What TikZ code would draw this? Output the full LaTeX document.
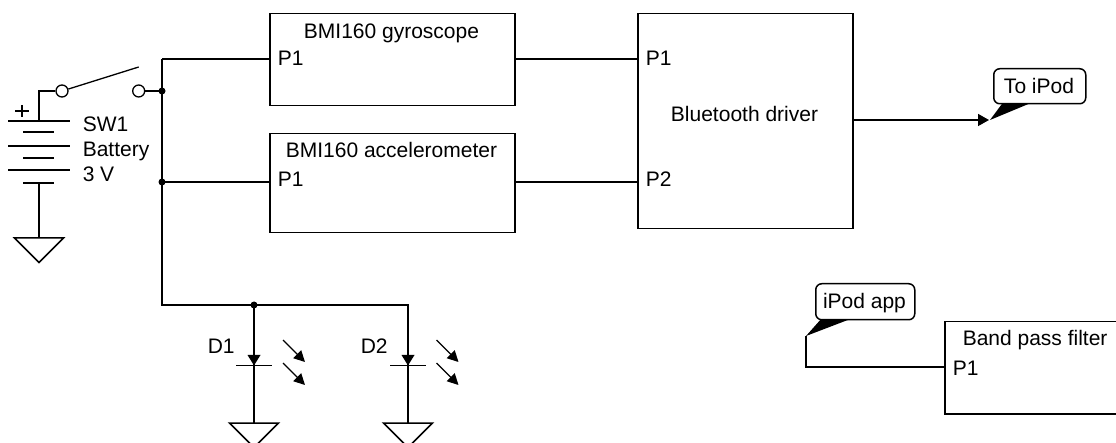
\documentclass[tikz,border=0pt]{standalone}
\usepackage{fontspec}
\setmainfont{Liberation Sans}
\usetikzlibrary{arrows.meta}
\begin{document}
\begin{tikzpicture}[x=1pt,y=-1pt,line width=1.5pt,
  box/.style={draw,inner sep=0pt,anchor=north west},
  lbl/.style={inner sep=0pt,font=\fontsize{21}{25}\selectfont},
  dot/.style={circle,fill,inner sep=0pt,minimum size=7pt},
  callout/.style={draw,fill=white,rounded corners=6pt,inner sep=0pt,anchor=north west},
  swpin/.style={circle,draw,fill=white,inner sep=0pt,minimum size=12pt,line width=1.3pt},
  ledarrow/.style={line width=1.3pt,-{Triangle[length=11pt,width=11pt]}},
  outarrow/.style={-{Triangle[length=11pt,width=12pt]}}
  ]
\useasboundingbox (0,0) rectangle (1116,443);
\clip (0,0) rectangle (1116,443);

% blocks
\node[box,minimum width=245pt,minimum height=92pt] (gyro) at (269,13) {};
\node[box,minimum width=245pt,minimum height=99pt] (acc) at (269,133) {};
\node[box,minimum width=215pt,minimum height=215pt] (bt) at (637,13) {};
\node[box,minimum width=220pt,minimum height=92pt] (bpf) at (944,321) {};

% block texts
\node[lbl,anchor=base] (gyrot) at (391.5,39) {BMI160 gyroscope};
\node[lbl,anchor=base west] (gyrop) at (277,66) {P1};
\node[lbl,anchor=base] (acct) at (391.5,158) {BMI160 accelerometer};
\node[lbl,anchor=base west] (accp) at (277,187) {P1};
\node[lbl,anchor=base west] (btp1) at (645,66) {P1};
\node[lbl,anchor=base west] (btp2) at (645,187) {P2};
\node[lbl,anchor=base] (btt) at (744.5,122) {Bluetooth driver};
\node[lbl,anchor=base west] (bpft) at (962,345) {Band pass filter};
\node[lbl,anchor=base west] (bpfp) at (952,376) {P1};
\node[lbl,anchor=base west] (swl) at (82,132) {SW1};
\node[lbl,anchor=base west] (batl) at (82,157) {Battery};
\node[lbl,anchor=base west] (voltl) at (82,182) {3 V};
\node[lbl,anchor=base west] (d1l) at (207,353) {D1};
\node[lbl,anchor=base west] (d2l) at (360,353) {D2};

% junction coordinates
\coordinate (busTop) at (162,59);
\coordinate (swdot) at (162,91);
\coordinate (accdot) at (162,182);
\coordinate (busBot) at (162,305);
\coordinate (d1top) at (254,305);
\coordinate (d2top) at (408,305);
\coordinate (d1gnd) at (254,423);
\coordinate (d2gnd) at (408,423);
\coordinate (battop) at (39,121);
\coordinate (batbot) at (39,183);
\coordinate (batgnd) at (39,238);
\coordinate (swcorner) at (39,91);
\coordinate (lever) at (138.7,67);
\coordinate (btout) at (852,120);
\coordinate (outtip) at (989,120);
\coordinate (apptip) at (806,336);
\coordinate (appcorner) at (806,367);
\coordinate (bpfin) at (944,367);

% wires
\draw (busTop) -- (gyro.west |- busTop);
\draw (busTop) -- (busBot) -- (d2top) -- (d2gnd);
\draw (d1top) -- (d1gnd);
\draw (accdot) -- (acc.west |- accdot);
\draw (gyro.east |- busTop) -- (bt.west |- busTop);
\draw (acc.east |- accdot) -- (bt.west |- accdot);
\draw[outarrow] (btout) -- (outtip);
\draw (apptip) -- (appcorner) -- (bpfin);

% switch
\node[swpin] (swa) at (62,91) {};
\node[swpin] (swb) at (138.7,91) {};
\draw (swa.west) -- (swcorner) -- (battop);
\draw[line width=1.3pt] (swa.17.5) -- (lever);
\draw (swb.east) -- (swdot);

% battery
\foreach \yy in {121,146,170} \draw (8,\yy) -- (70,\yy);
\foreach \yy in {132,158,183} \draw (23,\yy) -- (54,\yy);
\draw[line width=1.3pt] (15,111) -- (29,111) (22,105) -- (22,117);
\draw (batbot) -- (batgnd);
\draw (14.5,238) -- (63.5,238) -- (39,262.5) -- cycle;

% diodes and grounds
\foreach \x in {254,408} {
  \fill (\x-6.5,355) -- (\x+6.5,355) -- (\x,365.5) -- cycle;
  \draw (\x-18,365.5) -- (\x+18,365.5);
  \draw (\x-24.5,423) -- (\x+24.5,423) -- (\x,447.5) -- cycle;
}
\foreach \x in {283,436.5} {
  \draw[ledarrow] (\x,340) -- (\x+22,362);
  \draw[ledarrow] (\x,363) -- (\x+22,385);
}

% dots
\node[dot] (dA) at (swdot) {};
\node[dot] (dB) at (accdot) {};
\node[dot] (dC) at (d1top) {};

% callouts
\fill (1003,102.5) -- (1032,102.5) -- (990,120) -- cycle;
\node[callout,minimum width=92pt,minimum height=35pt] (toipod) at (993,68) {};
\node[lbl,anchor=base] (toipodt) at (1039,94) {To iPod};
\fill (822,318) -- (853,318) -- (apptip) -- cycle;
\node[callout,minimum width=99pt,minimum height=36pt] (ipodapp) at (815,283) {};
\node[lbl,anchor=base] (ipodappt) at (864.5,309) {iPod app};
\end{tikzpicture}
\end{document}
